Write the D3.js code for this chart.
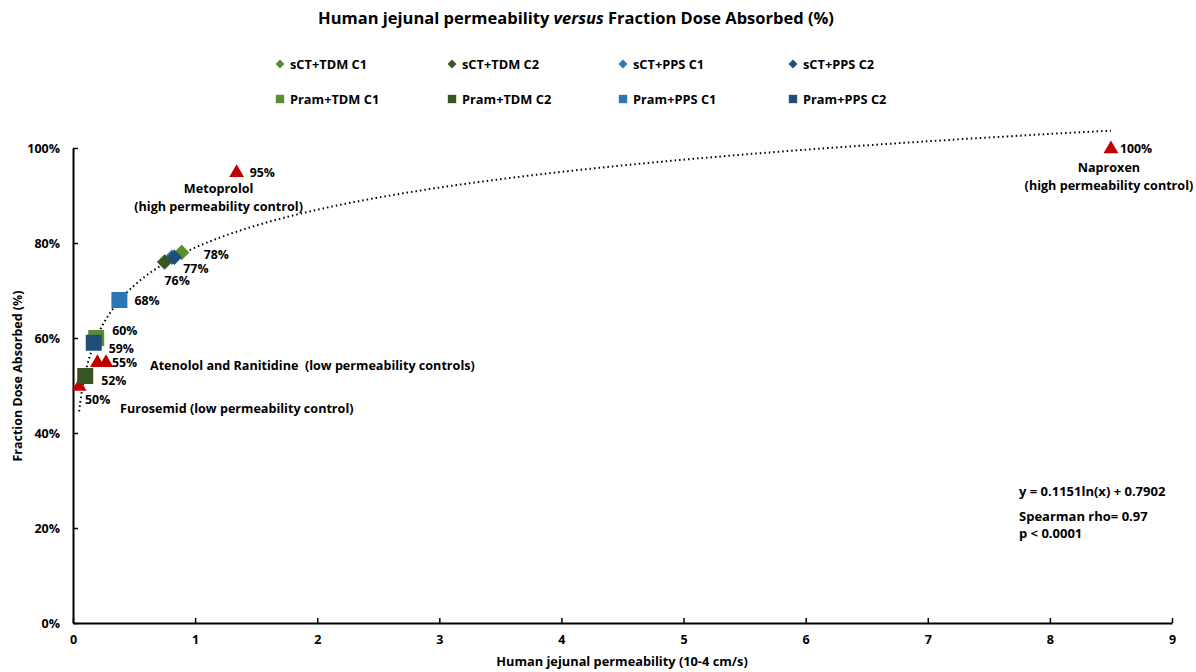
<!DOCTYPE html>
<html lang="en">
<head>
<meta charset="UTF-8">
<title>Human jejunal permeability versus Fraction Dose Absorbed</title>
<style>
    body { margin: 0; background: #fff; }
    text { font-family: "Open Sans", "Noto Sans", sans-serif; font-weight: bold; fill: #000; }
    .domain { stroke: #000; stroke-width: 2; }
    .tick line { stroke: #000; stroke-width: 1.5; }
</style>
</head>
<body>
<svg width="1196" height="672"></svg>
<script src="https://d3js.org/d3.v7.min.js"></script>
<script>

// Series (study arms) : permeability (10-4 cm/s), fraction absorbed
const seriesNames = ['sCT+TDM C1', 'sCT+TDM C2', 'sCT+PPS C1', 'sCT+PPS C2',
                     'Pram+TDM C1', 'Pram+TDM C2', 'Pram+PPS C1', 'Pram+PPS C2'];
const seriesShapes = ['diamond', 'diamond', 'diamond', 'diamond',
                      'square', 'square', 'square', 'square'];
const seriesColors = ['#5b8c32', '#375623', '#2e75b6', '#1f4e79',
                      '#5b8c32', '#375623', '#2e75b6', '#1f4e79'];
const seriesPeff = [0.89, 0.75, 0.81, 0.83, 0.19, 0.10, 0.38, 0.17];
const seriesFa   = [0.78, 0.76, 0.77, 0.77, 0.60, 0.52, 0.68, 0.59];

// Reference drugs (red triangles)
const controlNames = ['Naproxen', 'Metoprolol', 'Atenolol', 'Ranitidine', 'Furosemid'];
const controlPeff = [8.5, 1.34, 0.20, 0.27, 0.05];
const controlFa   = [1.00, 0.95, 0.55, 0.55, 0.50];

// Logarithmic trend line  y = a ln(x) + b
const trendA = 0.1151;
const trendB = 0.7902;

const xTicks = [0, 1, 2, 3, 4, 5, 6, 7, 8, 9];
const yTicks = [0, 0.2, 0.4, 0.6, 0.8, 1.0];

const margin = { left: 73, right: 24, top: 148, bottom: 49 };

const svg = d3.select('svg');
const width = +svg.attr('width');
const height = +svg.attr('height');
const innerWidth = width - margin.left - margin.right;
const innerHeight = height - margin.top - margin.bottom;

const xScale = d3.scaleLinear().domain([0, 9]).range([0, innerWidth]);
const yScale = d3.scaleLinear().domain([0, 1]).range([innerHeight, 0]);

const g = svg.append('g')
    .attr('transform', 'translate(' + margin.left + ' ' + margin.top + ')');

// Title
svg.append('text')
    .attr('x', 576).attr('y', 24)
    .style('font-size', '16.5px')
    .style('text-anchor', 'middle')
    .call(function (t) {
        t.append('tspan').text('Human jejunal permeability ');
        t.append('tspan').style('font-style', 'italic').text('versus');
        t.append('tspan').text(' Fraction Dose Absorbed (%)');
    });

// Legend
const legendX = [280, 452, 623, 793];
const legendY = [64, 99];
const legend = svg.append('g');
seriesNames.forEach(function (name, i) {
    const lx = legendX[i % 4];
    const ly = legendY[Math.floor(i / 4)];
    const isDiamond = seriesShapes[i] === 'diamond';
    legend.append('path')
        .attr('d', d3.symbol().type(isDiamond ? d3.symbolDiamond2 : d3.symbolSquare).size(isDiamond ? 50 : 70))
        .attr('transform', 'translate(' + lx + ' ' + ly + ')')
        .attr('fill', seriesColors[i]);
    legend.append('text')
        .attr('x', lx + 10).attr('y', ly + 4.5)
        .style('font-size', '12.8px')
        .text(name);
});

// Axes
const xAxis = d3.axisBottom(xScale)
    .tickValues(xTicks)
    .tickSize(-5)
    .tickSizeOuter(0)
    .tickPadding(12)
    .tickFormat(d3.format('d'));

const yAxis = d3.axisLeft(yScale)
    .tickValues(yTicks)
    .tickSize(-5)
    .tickSizeOuter(0)
    .tickPadding(13)
    .tickFormat(d3.format('.0%'));

g.append('g').attr('transform', 'translate(0 ' + innerHeight + ')').call(xAxis);
g.append('g').call(yAxis);

g.selectAll('.tick text').style('font-size', '12.5px');

// Axis titles
svg.append('text')
    .attr('x', 622).attr('y', 666)
    .style('font-size', '12.8px')
    .style('text-anchor', 'middle')
    .text('Human jejunal permeability (10-4 cm/s)');

svg.append('text')
    .attr('transform', 'translate(22 ' + 376 + ') rotate(-90)')
    .style('font-size', '12.5px')
    .style('text-anchor', 'middle')
    .text('Fraction Dose Absorbed (%)');

// Trend line
const trendX = d3.range(0.05, 8.5001, 0.01);
const line = d3.line()
    .x(function (d) { return xScale(d); })
    .y(function (d) { return yScale(trendA * Math.log(d) + trendB); });

g.append('path')
    .datum(trendX)
    .attr('d', line)
    .attr('fill', 'none')
    .attr('stroke', '#000')
    .attr('stroke-width', 2)
    .attr('stroke-dasharray', '1.5 3')
    .attr('stroke-linecap', 'butt');

// Controls (triangles)
g.selectAll('.control')
    .data(controlNames)
    .enter()
    .append('path')
    .attr('class', 'control')
    .attr('d', d3.symbol().type(d3.symbolTriangle).size(95))
    .attr('transform', function (d, i) {
        return 'translate(' + xScale(controlPeff[i]) + ' ' + (yScale(controlFa[i]) + 1) + ')';
    })
    .attr('fill', '#c00000');

// Series markers, draw C1 first so C2 sits above like the original
const order = [4, 5, 7, 6, 0, 2, 1, 3];
g.selectAll('.series')
    .data(order)
    .enter()
    .append('path')
    .attr('class', 'series')
    .attr('d', function (i) {
        return seriesShapes[i] === 'diamond'
            ? d3.symbol().type(d3.symbolDiamond2).size(150)()
            : d3.symbol().type(d3.symbolSquare).size(256)();
    })
    .attr('transform', function (i) {
        return 'translate(' + xScale(seriesPeff[i]) + ' ' + yScale(seriesFa[i]) + ')';
    })
    .attr('fill', function (i) { return seriesColors[i]; });

// Value labels (offsets in px from the point)
const pct = d3.format('.0%');
const valueLabels = [
    { x: seriesPeff[0], y: seriesFa[0], dx: 22, dy: 6 },
    { x: seriesPeff[3], y: seriesFa[3], dx: 9, dy: 16 },
    { x: seriesPeff[1], y: seriesFa[1], dx: 0, dy: 23 },
    { x: seriesPeff[6], y: seriesFa[6], dx: 15, dy: 5 },
    { x: seriesPeff[4], y: seriesFa[4], dx: 16, dy: -3 },
    { x: seriesPeff[7], y: seriesFa[7], dx: 15, dy: 10 },
    { x: controlPeff[3], y: controlFa[3], dx: 6, dy: 5 },
    { x: seriesPeff[5], y: seriesFa[5], dx: 16, dy: 9 },
    { x: controlPeff[4], y: controlFa[4], dx: 6, dy: 18 },
    { x: controlPeff[1], y: controlFa[1], dx: 13, dy: 5 },
    { x: controlPeff[0], y: controlFa[0], dx: 9, dy: 5 }
];

g.selectAll('.vlabel')
    .data(valueLabels)
    .enter()
    .append('text')
    .attr('class', 'vlabel')
    .attr('x', function (d) { return xScale(d.x) + d.dx; })
    .attr('y', function (d) { return yScale(d.y) + d.dy; })
    .style('font-size', '12.3px')
    .text(function (d) { return pct(d.y); });

// Drug name annotations
const notes = [
    { x: controlPeff[0], y: controlFa[0], dx: -2, dy: 24, anchor: 'middle', lines: ['Naproxen', '(high permeability control)'] },
    { x: controlPeff[1], y: controlFa[1], dx: -18, dy: 21, anchor: 'middle', lines: ['Metoprolol', '(high permeability control)'] },
    { x: controlPeff[3], y: controlFa[3], dx: 44, dy: 8, anchor: 'start', lines: ['Atenolol and Ranitidine  (low permeability controls)'] },
    { x: controlPeff[4], y: controlFa[4], dx: 41, dy: 27, anchor: 'start', lines: ['Furosemid (low permeability control)'] }
];

notes.forEach(function (n) {
    const t = g.append('text')
        .attr('x', xScale(n.x) + n.dx)
        .attr('y', yScale(n.y) + n.dy)
        .style('font-size', '12.6px')
        .style('text-anchor', n.anchor)
        .style('white-space', 'pre');
    n.lines.forEach(function (s, k) {
        t.append('tspan')
            .attr('x', xScale(n.x) + n.dx)
            .attr('dy', k === 0 ? 0 : 18)
            .text(s);
    });
});

// Fit statistics
const stats = ['y = 0.1151ln(x) + 0.7902', 'Spearman rho= 0.97', 'p < 0.0001'];
const statsY = [496, 521, 538];
stats.forEach(function (s, i) {
    svg.append('text')
        .attr('x', 1019).attr('y', statsY[i])
        .style('font-size', '13px')
        .text(s);
});

</script>
</body>
</html>
